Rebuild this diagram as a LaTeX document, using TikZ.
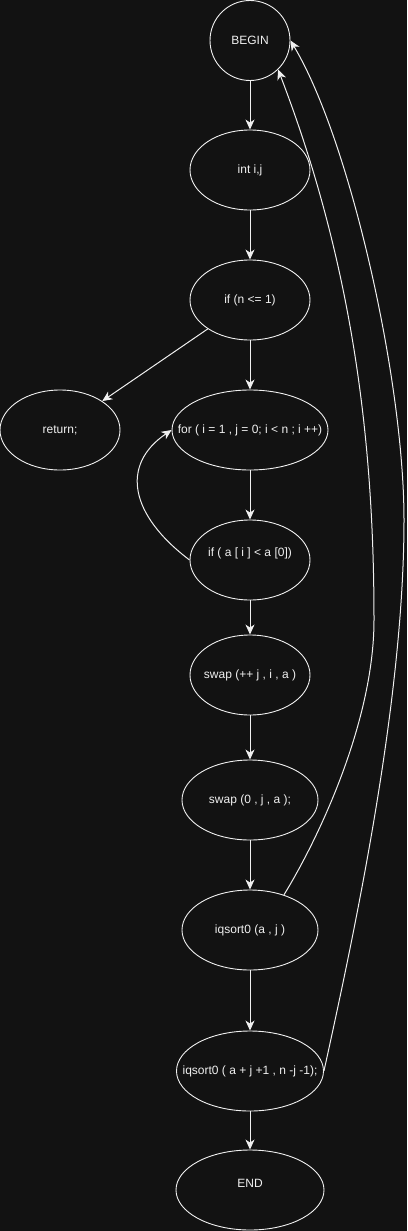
\documentclass[tikz,border=0pt]{standalone}
\usepackage{fontspec}
\setmainfont{Liberation Sans}
\usetikzlibrary{shapes.geometric,arrows.meta}
\definecolor{bg}{RGB}{18,18,18}
\definecolor{fg}{RGB}{240,240,240}
\begin{document}
\begin{tikzpicture}[x=1pt,y=-1pt,
  ell/.style={ellipse,draw=fg,line width=0.9pt,minimum width=#1,minimum height=80pt,inner sep=0pt,text=fg,font=\fontsize{12}{14}\selectfont},
  arr/.style={draw=fg,line width=1pt,-{Stealth[length=10pt,width=9pt,inset=3pt]}},
  lab/.style={text=fg,font=\fontsize{12}{14}\selectfont}]
\fill[bg] (0,0) rectangle (407,1231);
\useasboundingbox (0,0) rectangle (407,1231);
\node[circle,draw=fg,line width=0.9pt,minimum size=80pt,inner sep=0pt,text=fg,font=\fontsize{12}{14}\selectfont] (begin) at (250,40.5) {BEGIN};
\node[ell=120pt] (int) at (250,170) {\makebox[0pt]{int i,j}};
\node[ell=120pt] (ifn) at (250,300) {\makebox[0pt]{if (n <= 1)}};
\node[ell=120pt] (ret) at (60,430) {\makebox[0pt]{return;}};
\node[ell=156pt] (for) at (250,430) {\makebox[0pt]{for ( i = 1 , j = 0; i < n ; i ++)}};
\node[ell=120pt] (ifa) at (250,560) {};
\node[lab] (ifat) at (250,553) {if ( a [ i ] < a [0])};
\node[ell=120pt] (sw1) at (250,675) {\makebox[0pt]{swap (++ j , i , a )}};
\node[ell=136pt] (sw2) at (250,800) {\makebox[0pt]{swap (0 , j , a );}};
\node[ell=136pt] (iq1) at (250,930) {\makebox[0pt]{iqsort0 (a , j )}};
\node[ell=147pt] (iq2) at (250,1071) {\makebox[0pt]{iqsort0 ( a + j +1 , n -j -1);}};
\node[ell=148pt] (end) at (250,1190) {};
\node[lab] (endt) at (250,1183) {END};
\draw[arr] (begin) -- (int);
\draw[arr] (int) -- (ifn);
\draw[arr] (ifn) -- (for);
\draw[arr] (ifn) -- (ret);
\draw[arr] (for) -- (ifa);
\draw[arr] (ifa) -- (sw1);
\draw[arr] (sw1) -- (sw2);
\draw[arr] (sw2) -- (iq1);
\draw[arr] (iq1) -- (iq2);
\draw[arr] (iq2) -- (end);
\draw[arr] (ifa.west) .. controls (130,515) and (120,465) .. (for.west);
\coordinate (cA) at (374,620);
\coordinate (cB) at (404,520);
\draw[arr] (iq1.46) .. controls (320,836) and (374,720) .. (cA) .. controls (374,450) and (355,270) .. (begin.-46);
\draw[arr] (iq2.east) .. controls (355,930) and (404,700) .. (cB) .. controls (404,380) and (350,140) .. (begin.east);
\end{tikzpicture}
\end{document}
